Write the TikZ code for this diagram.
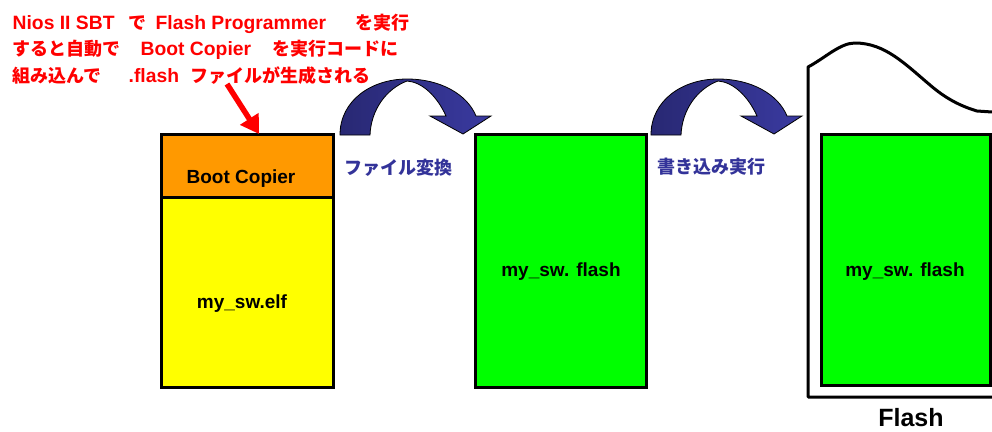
\documentclass[tikz,border=0pt]{standalone}
\usepackage{fontspec}
\setmainfont{Liberation Sans}
\newfontfamily\cjk{Noto Sans CJK JP}
\usetikzlibrary{arrows.meta}
\definecolor{orng}{RGB}{255,153,0}
\definecolor{yel}{RGB}{255,255,0}
\definecolor{grn}{RGB}{0,255,0}
\definecolor{navy1}{RGB}{40,40,115}
\definecolor{navy2}{RGB}{58,58,160}
\definecolor{lbl}{RGB}{51,51,153}
\newcommand\segat[2]{\rlap{\hspace*{#1pt}#2}}
\newcommand\lat{\fontsize{19.3}{19}\selectfont\bfseries}
\newcommand\jp{\cjk\fontsize{18}{18}\selectfont\bfseries}
\tikzset{
  blk/.style={draw=black, line width=3pt},
  lab/.style={font=\fontsize{19}{19}\selectfont\bfseries, inner sep=0pt},
  redline/.style={anchor=base west, inner sep=0pt, text=red},
  bluelab/.style={anchor=west, inner sep=0pt, text=lbl, font=\cjk\fontsize{18}{18}\selectfont\bfseries},
  curvearrow/.style={draw=black, line width=0.8pt, left color=navy1, right color=navy2},
}
\begin{document}
\begin{tikzpicture}[x={(1pt,0)}, y={(0,-1pt)}]
\useasboundingbox (0,0) rectangle (992,431);
% red text
\node[redline] (l1) at (0,29) {\segat{12}{\lat Nios II SBT}\segat{128}{\jp で}\segat{155}{\lat Flash Programmer}\segat{355}{\jp を実行}};
\node[redline] (l2) at (0,55) {\segat{12}{\jp すると自動で}\segat{140}{\lat Boot Copier}\segat{272}{\jp を実行コードに}};
\node[redline] (l3) at (0,82) {\segat{12}{\jp 組み込んで}\segat{128}{\lat .flash}\segat{190}{\jp ファイルが生成される}};
% left box
\path[blk, fill=yel] (161,134) rectangle (333,387);
\path[blk, fill=orng] (161,134) rectangle (333,197);
\node[lab] (boot) at (241,179) {Boot Copier};
\node[lab] (elf) at (242,304) {my\_sw.elf};
% red arrow
\coordinate (rs) at (227,84);
\coordinate (rt) at (259,134);
\draw[red, line width=5.5pt, -{Triangle[width=21pt,length=18pt]}] (rs) -- (rt);
% middle box
\draw[blk, fill=grn] (475,134) rectangle (646,387);
\node[lab] (mid) at (561,272) {my\_sw. flash};
% right flash outline
\draw[line width=3pt, line join=round] (992,112) -- (977,111) .. controls (960,106) and (945,98) .. (930,85) .. controls (905,64) and (885,43) .. (855,43) .. controls (840,43) and (825,58) .. (808,67) -- (808,397) -- (993,397);
\draw[blk, fill=grn] (821,134) rectangle (990,385);
\node[lab] (rgt) at (905,272) {my\_sw. flash};
\node[anchor=base, inner sep=0pt, font=\fontsize{25}{25}\selectfont\bfseries] (fl) at (911,426) {Flash};
% blue curved arrows
\foreach \dx in {0, 311}{
  \begin{scope}[xshift=\dx]
  \path[curvearrow] (340,135) .. controls (340,100) and (372,79) .. (407,79)
     .. controls (440,79) and (467,94) .. (476,116) -- (491,116) -- (463,134) -- (430,116) -- (446,116)
     .. controls (437,96) and (422,82) .. (407,81)
     .. controls (386,89) and (371,110) .. (370,135) -- cycle;
  \end{scope}
}
\node[bluelab] (conv) at (344,168) {ファイル変換};
\node[bluelab] (wr) at (657,167) {書き込み実行};
\end{tikzpicture}
\end{document}
